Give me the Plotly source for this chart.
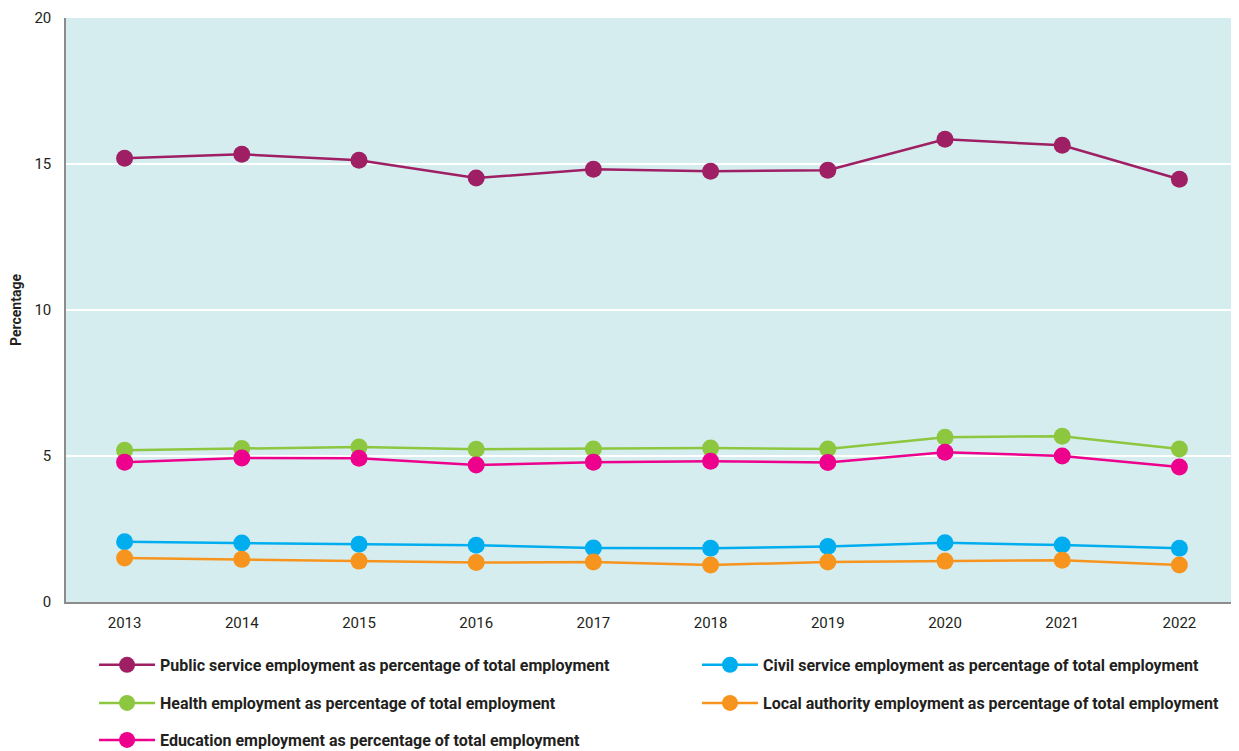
import plotly.graph_objects as go

years = ["2013", "2014", "2015", "2016", "2017", "2018", "2019", "2020", "2021", "2022"]

public_service = [15.20, 15.33, 15.13, 14.52, 14.82, 14.75, 14.79, 15.85, 15.64, 14.48]
health = [5.20, 5.26, 5.31, 5.23, 5.24, 5.27, 5.24, 5.64, 5.68, 5.24]
education = [4.79, 4.93, 4.92, 4.69, 4.79, 4.82, 4.78, 5.13, 5.00, 4.62]
civil_service = [2.06, 2.02, 1.98, 1.94, 1.85, 1.84, 1.90, 2.03, 1.95, 1.84]
local_authority = [1.51, 1.46, 1.40, 1.35, 1.37, 1.27, 1.37, 1.40, 1.43, 1.27]

names = {
    "public": "Public service employment as percentage of total employment",
    "civil": "Civil service employment as percentage of total employment",
    "health": "Health employment as percentage of total employment",
    "local": "Local authority employment as percentage of total employment",
    "education": "Education employment as percentage of total employment",
}
colors = {
    "public": "#9E1F63",
    "civil": "#00AEEF",
    "health": "#8DC63F",
    "local": "#F7941D",
    "education": "#EC008C",
}
# (key, values, legend id, legend x, legend y) legend positions in container fractions
series = [
    ("public", public_service, "legend", 0.0699, 0.1158),
    ("health", health, "legend2", 0.0699, 0.0646),
    ("education", education, "legend3", 0.0699, 0.0148),
    ("civil", civil_service, "legend4", 0.5597, 0.1158),
    ("local", local_authority, "legend5", 0.5597, 0.0646),
]

FONT = "Roboto, Arial, sans-serif"
TXT = "#231F20"

fig = go.Figure()
legends = {}
for key, vals, leg, lx, ly in series:
    fig.add_trace(go.Scatter(
        x=years, y=vals, name=names[key], mode="lines+markers",
        line=dict(color=colors[key], width=2.5),
        marker=dict(color=colors[key], size=17),
        legend=leg,
    ))
    legends[leg] = dict(
        orientation="h", xref="container", yref="container",
        xanchor="left", yanchor="middle", x=lx, y=ly,
        itemwidth=56,
        font=dict(family=FONT, size=16, color=TXT, weight="bold"),
        bgcolor="rgba(0,0,0,0)", itemclick=False, itemdoubleclick=False,
    )

fig.update_layout(
    width=1231, height=743,
    margin=dict(l=58, r=1, t=10, b=149),
    paper_bgcolor="white",
    plot_bgcolor="#D6EDF0",
    font=dict(family=FONT, size=15, color=TXT),
    showlegend=True,
    xaxis=dict(
        type="category", range=[-0.5, 9.5], automargin=False,
        showline=True, linecolor="#8C8C8C", linewidth=1.5,
        showgrid=False, ticks="", ticklabelstandoff=6,
        tickfont=dict(size=15, color=TXT),
    ),
    yaxis=dict(
        range=[0, 20], tickvals=[0, 5, 10, 15, 20], automargin=False,
        showline=True, linecolor="#8C8C8C", linewidth=1.5,
        showgrid=True, gridcolor="white", gridwidth=1.5,
        zeroline=False, ticks="", ticklabelstandoff=10,
        tickfont=dict(size=15, color=TXT),
        title=dict(text="<b>Percentage</b>", standoff=18,
                   font=dict(size=14, color=TXT)),
    ),
)
fig.update_layout(**legends)

fig.write_html("out.html")
